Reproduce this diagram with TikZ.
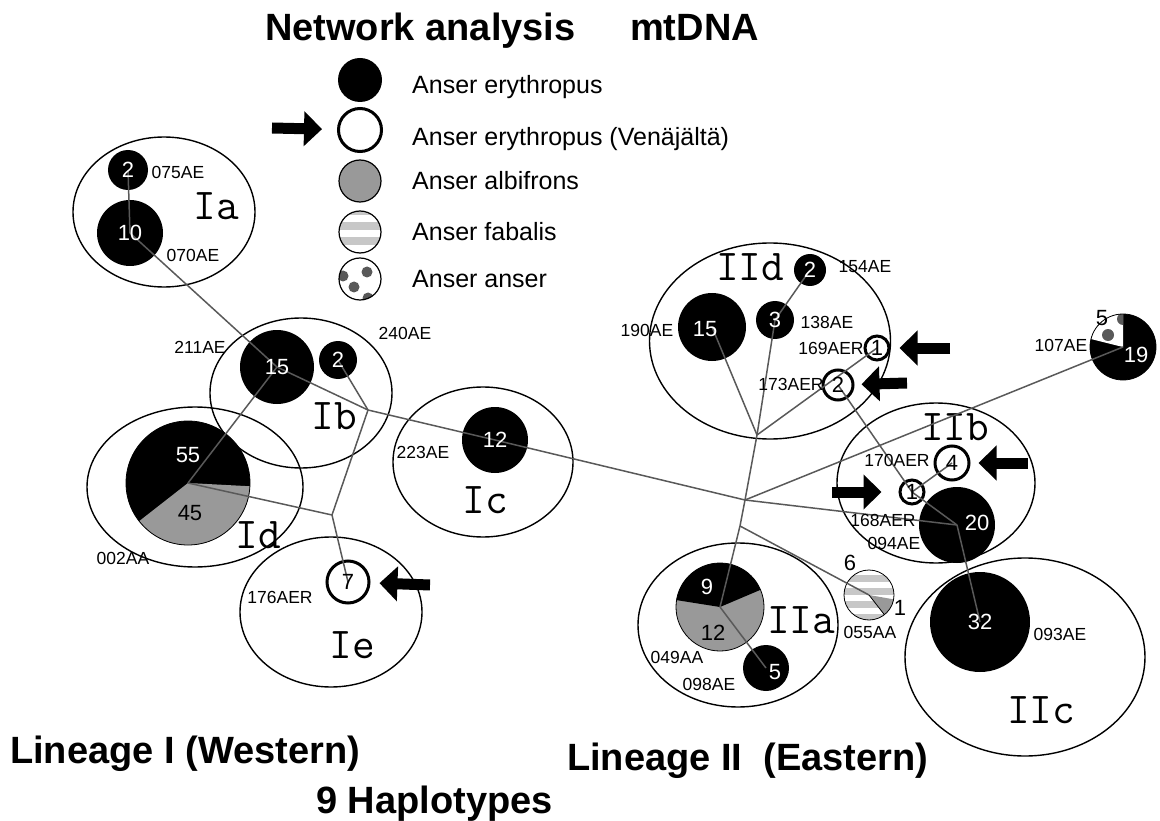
\documentclass[tikz,border=0pt]{standalone}
\usepackage{fontspec}
\setmainfont{Liberation Sans}
\usetikzlibrary{shapes, arrows.meta, positioning}
\newcommand{\numsize}{\fontsize{22}{24}\selectfont}
\newcommand{\labsize}{\fontsize{17.5}{20}\selectfont}
\newcommand{\legsize}{\fontsize{25}{28}\selectfont}
\newcommand{\grpsize}{\ttfamily\fontsize{44}{46}\selectfont}
\newcommand{\bigsize}{\fontsize{38}{40}\selectfont\bfseries}
\definecolor{albgray}{gray}{0.6}
\definecolor{fabgray}{gray}{0.78}
\definecolor{dotgray}{gray}{0.35}
\definecolor{linkgray}{gray}{0.35}
\tikzstyle{hap} = [circle, fill=black, text=white, inner sep=0pt, font=\numsize]
\tikzstyle{rus} = [circle, draw=black, line width=3pt, fill=white, inner sep=0pt, font=\numsize]
\tikzstyle{clade} = [ellipse, draw=black, line width=1.4pt]
\tikzstyle{cladename} = [anchor=base, inner sep=0pt, font=\grpsize]
\tikzstyle{lab} = [inner sep=0pt, font=\labsize]
\tikzstyle{num} = [inner sep=0pt, font=\numsize]
\tikzstyle{legtext} = [anchor=west, inner sep=0pt, font=\legsize]
\tikzstyle{big} = [anchor=base west, inner sep=0pt, font=\bigsize]
\tikzstyle{link} = [draw=linkgray, line width=1.5pt]
\tikzstyle{pointer} = [line width=11pt, -{Triangle[length=18pt, width=34pt]}]

\begin{document}
\begin{tikzpicture}[x=1pt, y=-1pt]
	\useasboundingbox (0,0) rectangle (1160,821);

	% titles
	\node (Title) [big] at (265,41) {Network analysis};
	\node (Marker) [big] at (630,41) {mtDNA};
	\node (LinI) [big] at (10,763) {Lineage I (Western)};
	\node (LinII) [big] at (567,770) {Lineage II\ \ (Eastern)};
	\node (Haps) [big] at (316,813) {9 Haplotypes};

	% legend
	\node (LEry) [circle, fill=black, minimum size=44pt] at (360,80) {};
	\node (LEryT) [legtext] at (412,87) {Anser erythropus};
	\node (LRus) [circle, draw=black, line width=3pt, minimum size=43pt] at (360,130) {};
	\node (LRusT) [legtext] at (412,139) {Anser erythropus (Venäjältä)};
	\coordinate (LArrow) at (272,128);
	\draw [pointer, shorten >=15pt] (LArrow) -- (LRus);
	\node (LAlb) [circle, draw=black, line width=1.2pt, fill=albgray, minimum size=42pt] at (360,181) {};
	\node (LAlbT) [legtext] at (412,181) {Anser albifrons};
	\begin{scope}
		\clip (360,232) circle (21);
		\foreach \k in {207,222,237,252}
			\fill [fabgray] (335,\k) rectangle (385,\k+8);
	\end{scope}
	\node (LFab) [circle, draw=black, line width=1.2pt, minimum size=42pt] at (360,232) {};
	\node (LFabT) [legtext] at (412,232) {Anser fabalis};
	\begin{scope}
		\clip (360,279) circle (21);
		\foreach \p in {(367,272),(354,287),(343,276),(368,298)}
			\fill [dotgray] \p circle (5.5);
	\end{scope}
	\node (LAns) [circle, draw=black, line width=1.2pt, minimum size=42pt] at (360,279) {};
	\node (LAnsT) [legtext] at (412,279) {Anser anser};

	% clades
	\node (Ia) [clade, minimum width=182pt, minimum height=150pt] at (164,212) {};
	\node (Ib) [clade, minimum width=182pt, minimum height=150pt] at (301,393) {};
	\node (Id) [clade, minimum width=216pt, minimum height=160pt] at (195,487) {};
	\node (Ie) [clade, minimum width=182pt, minimum height=150pt] at (331,612) {};
	\node (Ic) [clade, minimum width=180pt, minimum height=150pt] at (483,462) {};
	\node (IId) [clade, minimum width=241pt, minimum height=196pt] at (770,341) {};
	\node (IIb) [clade, minimum width=198pt, minimum height=160pt] at (936,483) {};
	\node (IIa) [clade, minimum width=200pt, minimum height=164pt] at (738,625) {};
	\node (IIc) [clade, minimum width=240pt, minimum height=198pt] at (1025,657) {};

	\node (IaName) [cladename] at (216,220) {Ia};
	\node (IbName) [cladename] at (334,429) {Ib};
	\node (IdName) [cladename] at (258,548) {Id};
	\node (IeName) [cladename] at (352,658) {Ie};
	\node (IcName) [cladename] at (485,513) {Ic};
	\node (IIdName) [cladename] at (750,280) {IId};
	\node (IIbName) [cladename] at (955,440) {IIb};
	\node (IIaName) [cladename] at (801,633) {IIa};
	\node (IIcName) [cladename] at (1041,723) {IIc};

	% lineage I haplotypes
	\node (H075) [hap, minimum size=40pt] at (128,170) {};
	\node (H070) [hap, minimum size=66pt] at (130,233) {};
	\node (H211) [hap, minimum size=74pt] at (277,367) {};
	\node (H240) [hap, minimum size=38pt] at (338,360) {};
	\node (H223) [hap, minimum size=66pt] at (495,440) {};
	\node (H176) [rus, minimum size=42pt] at (348,582) {};

	% 002AA, erythropus and albifrons
	\coordinate (P002) at (188,483);
	\fill [black] (P002) circle (62);
	\fill [albgray] (P002) -- ++(3:62) arc [start angle=3, end angle=142, radius=62] -- cycle;
	\draw [line width=0.8pt] (P002) circle (62);

	% lineage II haplotypes
	\node (H190) [hap, minimum size=68pt] at (712,327) {};
	\node (H138) [hap, minimum size=38pt] at (775,320) {};
	\node (H154) [hap, minimum size=32pt] at (810,270) {};
	\node (H169) [rus, minimum size=24pt] at (877,348) {};
	\node (H173) [rus, minimum size=30pt] at (838,385) {};
	\node (H170) [rus, minimum size=34pt] at (952,463) {};
	\node (H168) [rus, minimum size=24pt] at (912,492) {};
	\node (H094) [hap, minimum size=76pt] at (957,525) {};
	\node (H093) [hap, minimum size=100pt] at (980,622) {};
	\node (H098) [hap, minimum size=46pt] at (766,668) {};

	% 107AE, erythropus and anser
	\coordinate (P107) at (1123,347);
	\fill [black] (P107) circle (33);
	\fill [white] (P107) -- ++(194:33) arc [start angle=194, end angle=270, radius=33] -- cycle;
	\begin{scope}
		\clip (P107) -- ++(194:33) arc [start angle=194, end angle=270, radius=33] -- cycle;
		\fill [dotgray] (1108,335) circle (6);
		\fill [dotgray] (1123,319) circle (6);
	\end{scope}
	\draw [line width=0.8pt] (P107) circle (33);

	% 049AA, erythropus and albifrons
	\coordinate (P049) at (720,607);
	\fill [albgray] (P049) circle (44);
	\fill [black] (P049) -- ++(189:44) arc [start angle=189, end angle=337, radius=44] -- cycle;
	\draw [line width=0.8pt] (P049) circle (44);

	% 055AA, fabalis and albifrons
	\coordinate (P055) at (869,595);
	\begin{scope}
		\clip (P055) circle (25);
		\foreach \k in {562,575,588,601,614}
			\fill [fabgray] (840,\k) rectangle (900,\k+7);
	\end{scope}
	\fill [albgray] (P055) -- ++(10:25) arc [start angle=10, end angle=52, radius=25] -- cycle;
	\draw [line width=0.8pt] (P055) -- ++(52:25);
	\draw [line width=0.8pt] (P055) circle (25);

	% network
	\coordinate (JIb) at (368,410);
	\coordinate (JId) at (332,515);
	\coordinate (JII) at (745,500);
	\coordinate (JIId) at (757,435);
	\coordinate (JIIa) at (740,526);
	\draw [link] (H075.center) -- (H070.center) -- (H211.center);
	\draw [link] (H211.center) -- (JIb);
	\draw [link] (H240.center) -- (JIb);
	\draw [link] (H211.center) -- (P002);
	\draw [link] (JIb) -- (JId);
	\draw [link] (P002) -- (JId);
	\draw [link] (JId) -- (H176.center);
	\draw [link] (JIb) -- (H223.center) -- (JII);
	\draw [link] (JII) -- (JIId);
	\draw [link] (JIId) -- (H190.center);
	\draw [link] (JIId) -- (H138.center) -- (H154.center);
	\draw [link] (JIId) -- (H169.center);
	\draw [link] (H173.center) -- (H168.center) -- (H094.center);
	\draw [link] (H168.center) -- (H170.center);
	\draw [link] (JII) -- (H094.center);
	\draw [link] (JII) -- (P107);
	\draw [link] (JII) -- (JIIa);
	\draw [link] (JIIa) -- (P049);
	\draw [link] (JIIa) -- (P055);
	\draw [link] (P049) -- (H098.center);
	\draw [link] (H094.center) -- (H093.center);

	% counts
	\node (N075) [num, text=white] at (H075) {2};
	\node (N070) [num, text=white] at (H070) {10};
	\node (N211) [num, text=white] at (H211) {15};
	\node (N240) [num, text=white] at (H240) {2};
	\node (N002a) [num, text=white] at (188,455) {55};
	\node (N002b) [num] at (190,513) {45};
	\node (N176) [num] at (H176) {7};
	\node (N223) [num, text=white] at (H223) {12};
	\node (N190) [num, text=white] at (705,329) {15};
	\node (N138) [num, text=white] at (H138) {3};
	\node (N154) [num, text=white] at (H154) {2};
	\node (N169) [num] at (H169) {1};
	\node (N173) [num] at (H173) {2};
	\node (N170) [num] at (H170) {4};
	\node (N168) [num] at (H168) {1};
	\node (N094) [num, text=white] at (977,523) {20};
	\node (N093) [num, text=white] at (H093) {32};
	\node (N107a) [num] at (1102,318) {5};
	\node (N107b) [num, text=white] at (1136,355) {19};
	\node (N049a) [num, text=white] at (707,587) {9};
	\node (N049b) [num] at (713,633) {12};
	\node (N098) [num, text=white] at (775,672) {5};
	\node (N055a) [num] at (850,563) {6};
	\node (N055b) [num] at (900,608) {1};

	% haplotype names
	\node (L075) [lab] at (178,172) {075AE};
	\node (L070) [lab] at (193,255) {070AE};
	\node (L211) [lab] at (200,347) {211AE};
	\node (L240) [lab] at (405,333) {240AE};
	\node (L002) [lab] at (123,558) {002AA};
	\node (L176) [lab] at (280,597) {176AER};
	\node (L223) [lab] at (423,452) {223AE};
	\node (L190) [lab] at (647,330) {190AE};
	\node (L154) [lab] at (865,267) {154AE};
	\node (L138) [lab] at (827,322) {138AE};
	\node (L169) [lab] at (831,348) {169AER};
	\node (L173) [lab] at (791,384) {173AER};
	\node (L170) [lab] at (897,460) {170AER};
	\node (L168) [lab] at (883,520) {168AER};
	\node (L094) [lab] at (894,543) {094AE};
	\node (L107) [lab] at (1061,345) {107AE};
	\node (L049) [lab] at (677,657) {049AA};
	\node (L098) [lab] at (709,684) {098AE};
	\node (L055) [lab] at (870,632) {055AA};
	\node (L093) [lab] at (1060,634) {093AE};

	% samples from Russia
	\coordinate (A176) at (430,585);
	\draw [pointer, shorten >=9pt] (A176) -- (H176);
	\coordinate (A169) at (950,348);
	\draw [pointer, shorten >=9pt] (A169) -- (H169);
	\coordinate (A173) at (907,383);
	\draw [pointer, shorten >=7pt] (A173) -- (H173);
	\coordinate (A170) at (1028,463);
	\draw [pointer, shorten >=8pt] (A170) -- (H170);
	\coordinate (A168) at (832,492);
	\draw [pointer, shorten >=17pt] (A168) -- (H168);
\end{tikzpicture}
\end{document}
